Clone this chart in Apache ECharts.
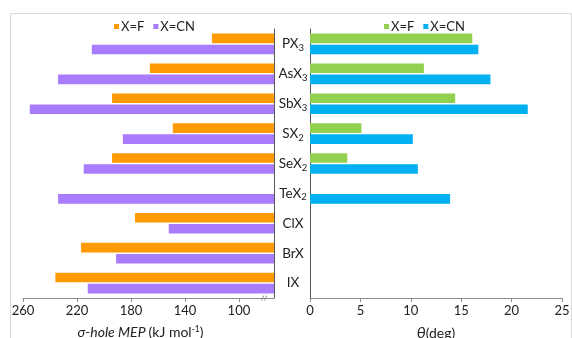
<!DOCTYPE html>
<html><head><meta charset="utf-8">
<script src="https://cdn.jsdelivr.net/npm/echarts@6/dist/echarts.min.js"></script>
<style>html,body{margin:0;padding:0;background:#fff}#c{width:572px;height:338px}</style>
</head><body><div id="c"></div>
<script>
var categories = ['PX3','AsX3','SbX3','SX2','SeX2','TeX2','ClX','BrX','IX'];
var mepF  = [120,166,194,149,194,null,177,217,236];
var mepCN = [209,234,255,186,215,234,152,191,212];
var thetaF  = [16.1,11.3,14.4,5.1,3.7,null,null,null,null];
var thetaCN = [16.7,17.9,21.6,10.2,10.7,13.9,null,null,null];
var mepTicks = [100,140,180,220,260];
var thetaTicks = [0,5,10,15,20,25];

var FONT = 'Lato';
var chart = echarts.init(document.getElementById('c'), null, {renderer:'canvas'});
function catLabel(v){
  var m = v.match(/^(.*?)(\d+)$/);
  return m ? '{a|'+m[1]+'}{s|'+m[2]+'}' : '{a|'+v+'}';
}
var barW = 9.6, gap = '15%';
var frame = {type:'rect', silent:true, shape:{x:10.5,y:13.5,width:561,height:340},
    style:{fill:null, stroke:'#d9d9d9', lineWidth:1}};
var option = {
  animation:false,
  textStyle:{fontFamily:FONT},
  graphic:[frame],
  legend:[
    {left:109, top:15, itemWidth:5, itemHeight:5, itemGap:9, icon:'rect',
     data:['X=F','X=CN'], textStyle:{fontSize:13, color:'#222', fontFamily:FONT, padding:[0,0,0,-3]}, selectedMode:false},
    {left:379, top:15, itemWidth:5, itemHeight:5, itemGap:9, icon:'rect',
     data:['X=F ','X=CN '], formatter:function(n){return n.trim();},
     textStyle:{fontSize:13, color:'#222', fontFamily:FONT, padding:[0,0,0,-3]}, selectedMode:false}
  ],
  grid:[
    {left:23, right:298, top:29, bottom:40, containLabel:false, outerBoundsMode:'none'},
    {left:310, right:10, top:29, bottom:40, containLabel:false, outerBoundsMode:'none'}
  ],
  xAxis:[
    {gridIndex:0, type:'value', inverse:true, min:74, max:260, startValue:74,
     axisLine:{show:true, lineStyle:{color:'#8c8c8c'}},
     axisTick:{show:true, length:4, customValues:mepTicks, lineStyle:{color:'#8c8c8c'}},
     axisLabel:{customValues:mepTicks, fontSize:13, color:'#222', margin:6, fontFamily:FONT},
     splitLine:{show:false},
     name:'{i|σ-hole MEP} {n|(kJ mol}{sup|-1}{n|)}', nameLocation:'middle', nameGap:27,
     nameTextStyle:{padding:[0,16,0,0], rich:{
       i:{fontStyle:'italic', fontSize:14, color:'#222', fontFamily:FONT},
       n:{fontSize:14, color:'#222', fontFamily:FONT},
       sup:{fontSize:8.5, color:'#222', padding:[0,0,6,0], fontFamily:FONT}}}
    },
    {gridIndex:1, type:'value', min:0, max:25, interval:5,
     axisLine:{show:true, lineStyle:{color:'#8c8c8c'}},
     axisTick:{show:true, length:4, lineStyle:{color:'#8c8c8c'}},
     axisLabel:{fontSize:13, color:'#222', margin:6, fontFamily:FONT},
     splitLine:{show:false},
     name:'{i|θ}{n|(deg)}', nameLocation:'middle', nameGap:27,
     nameTextStyle:{rich:{
       i:{fontStyle:'italic', fontSize:16, color:'#222', fontFamily:FONT},
       n:{fontSize:14, color:'#222', fontFamily:FONT}}}
    }
  ],
  yAxis:[
    {gridIndex:0, type:'category', data:categories, inverse:true, position:'right',
     axisLine:{show:true, lineStyle:{color:'#595959'}}, axisTick:{show:false}, axisLabel:{show:false}},
    {gridIndex:1, type:'category', data:categories, inverse:true, position:'left',
     axisLine:{show:true, lineStyle:{color:'#595959'}}, axisTick:{show:false},
     axisLabel:{align:'center', margin:17, formatter:catLabel, rich:{
       a:{fontSize:13.5, color:'#222', fontFamily:FONT},
       s:{fontSize:9.5, color:'#222', padding:[8,0,0,0], fontFamily:FONT}}}}
  ],
  series:[
    {name:'X=F', type:'bar', xAxisIndex:0, yAxisIndex:0, data:mepF, barWidth:barW, barGap:gap, clip:true, itemStyle:{color:'#FF9A00'}},
    {name:'X=CN', type:'bar', xAxisIndex:0, yAxisIndex:0, data:mepCN, barWidth:barW, barGap:gap, clip:true, itemStyle:{color:'#A97CFD'}},
    {name:'X=F ', type:'bar', xAxisIndex:1, yAxisIndex:1, data:thetaF, barWidth:barW, barGap:gap, itemStyle:{color:'#92D050'}},
    {name:'X=CN ', type:'bar', xAxisIndex:1, yAxisIndex:1, data:thetaCN, barWidth:barW, barGap:gap, itemStyle:{color:'#00B0F0'}}
  ]
};
chart.setOption(option);
// axis break marker on left value axis
var bx = chart.convertToPixel({xAxisIndex:0}, 80.5);
var by = 338 - 40;
chart.setOption({graphic:[
  frame,
  {type:'line', silent:true, shape:{x1:bx-3.5,y1:by+2.5,x2:bx-1.5,y2:by-2.5}, style:{stroke:'#8c8c8c', lineWidth:1}},
  {type:'line', silent:true, shape:{x1:bx-0.5,y1:by+2.5,x2:bx+1.5,y2:by-2.5}, style:{stroke:'#8c8c8c', lineWidth:1}}
]});
</script></body></html>
